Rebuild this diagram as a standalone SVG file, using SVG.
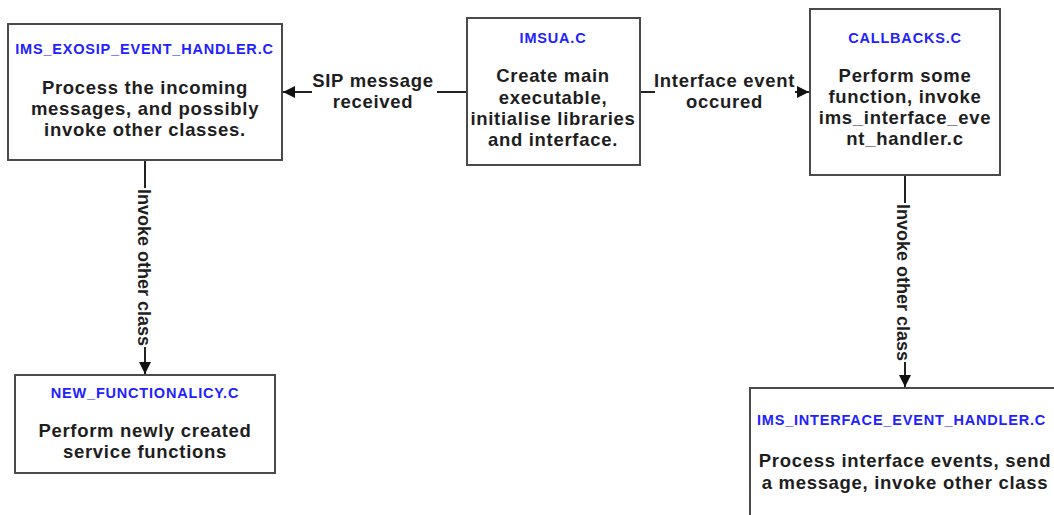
<svg xmlns="http://www.w3.org/2000/svg" width="1054" height="515" viewBox="0 0 1054 515">
  <defs>
    <marker id="arrow" viewBox="0 0 10 10" refX="10" refY="5" markerWidth="16" markerHeight="12" markerUnits="userSpaceOnUse" orient="auto">
      <path d="M0,0 L10,5 L0,10 Z" fill="#111"/>
    </marker>
    <style>
      .box { fill: #fff; stroke: #4a4a4a; stroke-width: 2; }
      .title { font-family: "Liberation Sans", Arial, sans-serif; font-weight: bold; font-size: 14.5px; fill: #2222ff; text-anchor: middle; letter-spacing: 0.8px; }
      .body { font-family: "Liberation Sans", Arial, sans-serif; font-weight: bold; font-size: 18.5px; fill: #1e1e1e; text-anchor: middle; letter-spacing: 0.7px; }
      .edge { fill: none; stroke: #222; stroke-width: 2; }
      .label { font-family: "Liberation Sans", Arial, sans-serif; font-weight: bold; font-size: 18.5px; fill: #1e1e1e; text-anchor: middle; letter-spacing: 0.7px; }
      .vlabel { font-family: "Liberation Sans", Arial, sans-serif; font-weight: bold; font-size: 18px; fill: #1e1e1e; text-anchor: middle; }
    </style>
  </defs>
  <rect width="1054" height="515" fill="#fff"/>

  <!-- connectors -->
  <g id="connectors">
    <path class="edge" d="M467,92 H437"/>
    <path class="edge" d="M312,92 H283" marker-end="url(#arrow)"/>
    <text class="label" x="373" y="87">SIP message</text>
    <text class="label" x="373" y="108">received</text>

    <path class="edge" d="M640,92 H655"/>
    <path class="edge" d="M795,92 H809" marker-end="url(#arrow)"/>
    <text class="label" x="724.5" y="87">Interface event</text>
    <text class="label" x="724.5" y="108">occured</text>

    <path class="edge" d="M145,160 V188"/>
    <path class="edge" d="M145,347 V374" marker-end="url(#arrow)"/>
    <text class="vlabel" transform="translate(137.5,267.5) rotate(90)" x="0" y="0">Invoke other class</text>

    <path class="edge" d="M905,175 V203"/>
    <path class="edge" d="M905,362 V387" marker-end="url(#arrow)"/>
    <text class="vlabel" transform="translate(897,282.5) rotate(90)" x="0" y="0">Invoke other class</text>
  </g>

  <g id="ims_exosip_event_handler">
    <rect class="box" x="8" y="24" width="274" height="136"/>
    <text class="title" x="144.5" y="54">IMS_EXOSIP_EVENT_HANDLER.C</text>
    <text class="body" x="145" y="94">Process the incoming</text>
    <text class="body" x="145" y="115">messages, and possibly</text>
    <text class="body" x="145" y="136">invoke other classes.</text>
  </g>

  <g id="imsua">
    <rect class="box" x="467" y="18" width="173" height="147"/>
    <text class="title" x="553" y="43">IMSUA.C</text>
    <text class="body" x="553" y="82">Create main</text>
    <text class="body" x="553" y="103.5">executable,</text>
    <text class="body" x="553" y="125">initialise libraries</text>
    <text class="body" x="553" y="146">and interface.</text>
  </g>

  <g id="callbacks">
    <rect class="box" x="810" y="9" width="190" height="166"/>
    <text class="title" x="905" y="43">CALLBACKS.C</text>
    <text class="body" x="905" y="82">Perform some</text>
    <text class="body" x="905" y="103">function, invoke</text>
    <text class="body" x="905" y="124">ims_interface_eve</text>
    <text class="body" x="905" y="145">nt_handler.c</text>
  </g>

  <g id="new_functionalicy">
    <rect class="box" x="15" y="375" width="260" height="98"/>
    <text class="title" x="145" y="398">NEW_FUNCTIONALICY.C</text>
    <text class="body" x="145" y="437">Perform newly created</text>
    <text class="body" x="145" y="458">service functions</text>
  </g>

  <g id="ims_interface_event_handler">
    <rect class="box" x="750" y="388" width="320" height="140"/>
    <text class="title" x="901.5" y="425">IMS_INTERFACE_EVENT_HANDLER.C</text>
    <text class="body" x="905" y="467">Process interface events, send</text>
    <text class="body" x="905" y="489">a message, invoke other class</text>
  </g>
</svg>
